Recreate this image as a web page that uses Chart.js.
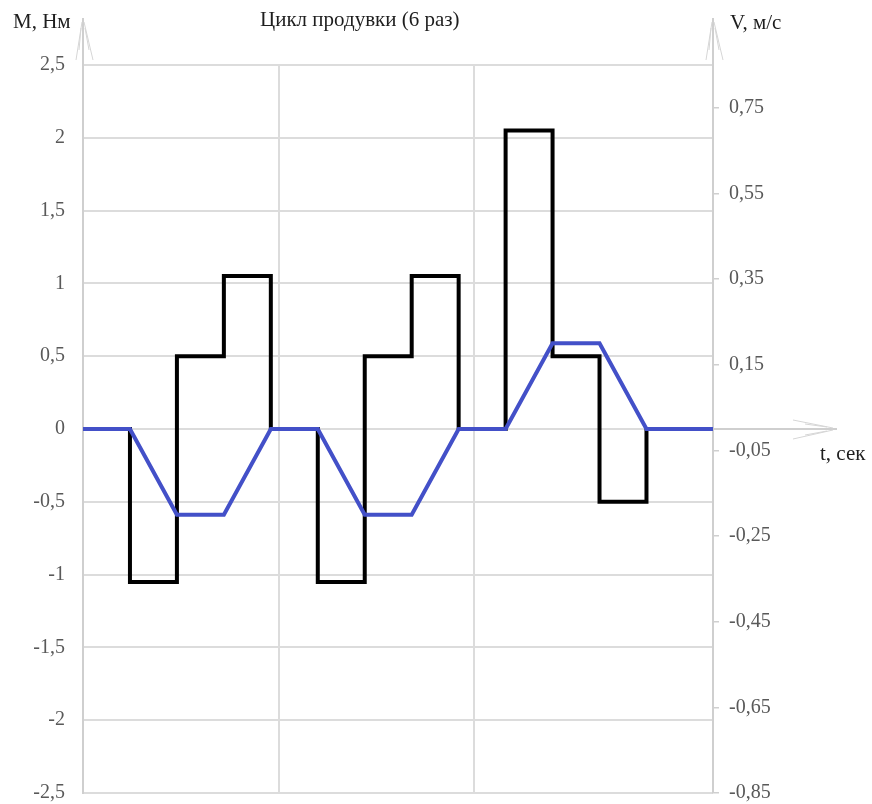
<!DOCTYPE html>
<html>
<head>
<meta charset="utf-8">
<script src="https://cdn.jsdelivr.net/npm/chart.js@4.4.1/dist/chart.umd.min.js"></script>
<style>
  html, body { margin: 0; padding: 0; background: #fff; overflow: hidden; }
  #wrap { width: 872px; height: 804px; position: relative; overflow: hidden; }
  #c { display: block; }
</style>
</head>
<body>
<div id="wrap"><canvas id="c" width="872" height="823"></canvas></div>
<script>
// Time points of the blow-off cycle, s
const times = [0, 0.12, 0.24, 0.36, 0.48, 0.60, 0.72, 0.84, 0.96, 1.08, 1.20, 1.32, 1.44, 1.61];
// Motor torque M, N·m (held constant until the next time point)
const torque = [0, -1.05, 0.5, 1.05, 0, -1.05, 0.5, 1.05, 0, 2.05, 0.5, -0.5, 0, 0];
// Carriage speed V, m/s
const velocity = [0, 0, -0.2, -0.2, 0, 0, -0.2, -0.2, 0, 0, 0.2, 0.2, 0, 0];

// Axis tick values
const torqueTicks = [-2.5, -2, -1.5, -1, -0.5, 0, 0.5, 1, 1.5, 2, 2.5];
const speedTicks = [-0.85, -0.65, -0.45, -0.25, -0.05, 0.15, 0.35, 0.55, 0.75];
const timeGrid = [0, 0.5, 1.0];

const titleText = 'Цикл продувки (6 раз)';
const torqueLabel = 'M, Нм';
const speedLabel = 'V, м/с';
const timeLabel = 't, сек';

const serif = "'Liberation Serif', 'Times New Roman', serif";
const fmt = v => String(Math.round(v * 100) / 100).replace('.', ',');
const toPts = (xs, ys) => xs.map((x, i) => ({ x: x, y: ys[i] }));

// Axis arrows and captions
const decor = {
  id: 'decor',
  afterDraw(chart) {
    const ctx = chart.ctx;
    const a = chart.chartArea;
    const y0 = chart.scales.y.getPixelForValue(0);
    ctx.save();
    ctx.lineCap = 'butt';

    const upArrow = (x) => {
      const tip = 18;
      ctx.strokeStyle = '#cfcfcf';
      ctx.lineWidth = 2;
      ctx.beginPath(); ctx.moveTo(x, a.top); ctx.lineTo(x, tip); ctx.stroke();
      ctx.strokeStyle = '#d6d6d6';
      ctx.lineWidth = 1;
      ctx.beginPath();
      ctx.moveTo(x - 1, tip + 4); ctx.lineTo(x - 7, tip + 42);
      ctx.moveTo(x + 1, tip + 4); ctx.lineTo(x + 10, tip + 42);
      ctx.moveTo(x - 2, tip + 10); ctx.lineTo(x - 4, tip + 32);
      ctx.moveTo(x + 2, tip + 10); ctx.lineTo(x + 6, tip + 32);
      ctx.stroke();
    };
    upArrow(a.left);
    upArrow(a.right);

    // time axis running past the right edge
    const tipX = a.right + 124;
    ctx.strokeStyle = '#cfcfcf';
    ctx.lineWidth = 2;
    ctx.beginPath(); ctx.moveTo(a.right, y0); ctx.lineTo(tipX, y0); ctx.stroke();
    ctx.strokeStyle = '#d6d6d6';
    ctx.lineWidth = 1;
    ctx.beginPath();
    ctx.moveTo(tipX - 4, y0 - 1); ctx.lineTo(tipX - 44, y0 - 9);
    ctx.moveTo(tipX - 4, y0 + 1); ctx.lineTo(tipX - 44, y0 + 10);
    ctx.moveTo(tipX - 10, y0 - 2); ctx.lineTo(tipX - 32, y0 - 5);
    ctx.moveTo(tipX - 10, y0 + 2); ctx.lineTo(tipX - 32, y0 + 6);
    ctx.stroke();

    ctx.fillStyle = '#1e1e1e';
    ctx.font = '21px ' + serif;
    ctx.textAlign = 'left';
    ctx.textBaseline = 'alphabetic';
    ctx.fillText(torqueLabel, 13, 28);
    ctx.fillText(titleText, 260, 26);
    ctx.fillText(speedLabel, 730, 29);
    ctx.fillText(timeLabel, 820, 460);
    ctx.restore();
  }
};

new Chart(document.getElementById('c'), {
  type: 'line',
  data: {
    datasets: [
      {
        label: 'V',
        data: toPts(times, velocity),
        yAxisID: 'y2',
        borderColor: '#4350c8',
        borderWidth: 4,
        pointRadius: 0,
        tension: 0,
        fill: false,
        order: 0
      },
      {
        label: 'M',
        data: toPts(times, torque),
        yAxisID: 'y',
        borderColor: '#000000',
        borderWidth: 4,
        borderJoinStyle: 'miter',
        stepped: 'before',
        pointRadius: 0,
        fill: false,
        order: 1
      }
    ]
  },
  options: {
    responsive: false,
    animation: false,
    layout: { padding: { top: 65, bottom: 0, left: 0, right: 0 } },
    plugins: {
      legend: { display: false },
      tooltip: { enabled: false },
      title: { display: false }
    },
    scales: {
      x: {
        type: 'linear',
        min: 0,
        max: times[times.length - 1],
        afterBuildTicks: s => { s.ticks = timeGrid.map(v => ({ value: v })); },
        afterFit: s => { s.height = 0; },
        ticks: { display: false },
        grid: { color: '#dcdcdc', lineWidth: 2, drawTicks: false },
        border: { display: false }
      },
      y: {
        position: 'left',
        min: -2.5,
        max: 2.5,
        afterBuildTicks: s => { s.ticks = torqueTicks.map(v => ({ value: v })); },
        afterFit: s => { s.width = 83; },
        ticks: {
          callback: v => fmt(v),
          color: '#595959',
          font: { family: serif, size: 20 },
          padding: 18
        },
        grid: { color: '#dcdcdc', lineWidth: 2, drawTicks: false },
        border: { display: true, color: '#cfcfcf', width: 2 }
      },
      y2: {
        position: 'right',
        min: -0.85,
        max: 0.85,
        afterBuildTicks: s => { s.ticks = speedTicks.map(v => ({ value: v })); },
        afterFit: s => { s.width = 159; },
        ticks: {
          callback: v => fmt(v),
          color: '#595959',
          font: { family: serif, size: 20 },
          padding: 10
        },
        grid: { drawOnChartArea: false, drawTicks: true, tickLength: 6, color: '#cfcfcf', lineWidth: 1.5 },
        border: { display: true, color: '#cfcfcf', width: 2 }
      }
    }
  },
  plugins: [decor]
});
</script>
</body>
</html>
